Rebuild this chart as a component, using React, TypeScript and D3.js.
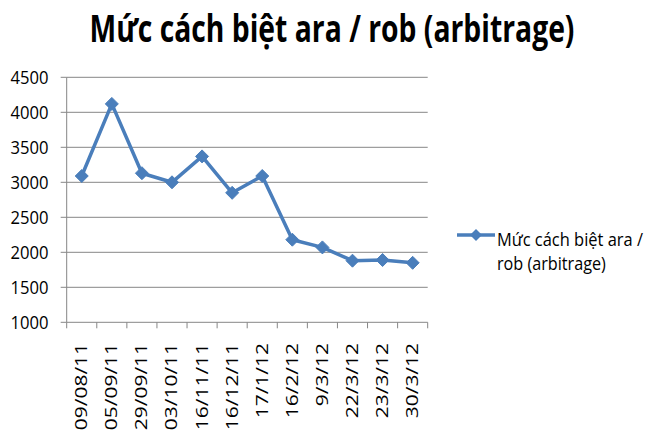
import React, { useLayoutEffect, useRef, useState } from "react";
import * as d3 from "d3";

const title = "Mức cách biệt ara / rob (arbitrage)";
const seriesName = "Mức cách biệt ara / rob (arbitrage)";
const legendLines = ["Mức cách biệt ara /", "rob (arbitrage)"];
const categories = ["09/08/11", "05/09/11", "29/09/11", "03/10/11", "16/11/11", "16/12/11", "17/1/12", "16/2/12", "9/3/12", "22/3/12", "23/3/12", "30/3/12"];
const values = [3090, 4120, 3130, 3000, 3370, 2850, 3090, 2180, 2070, 1880, 1890, 1850];
const yTicks = [1000, 1500, 2000, 2500, 3000, 3500, 4000, 4500];

const FONT = "'Open Sans', 'Noto Sans', sans-serif";
const BLUE = "#4A7EBB";
const GRID = "#868686";

function FitText(props: { x: number; y: number; width: number; anchor: "start" | "middle" | "end"; fontSize: number; bold?: boolean; children: string }) {
  const ref = useRef<SVGTextElement>(null);
  const [sx, setSx] = useState(1);
  useLayoutEffect(() => {
    if (ref.current) {
      const len = ref.current.getComputedTextLength();
      if (len > 0) setSx(props.width / len);
    }
  }, [props.width, props.children]);
  return (
    <g transform={`translate(${props.x},${props.y}) scale(${sx},1)`}>
      <text ref={ref} x={0} y={0} textAnchor={props.anchor} fontSize={props.fontSize} fontWeight={props.bold ? "bold" : "normal"} fill="#000">
        {props.children}
      </text>
    </g>
  );
}

export default function App() {
  const left = 66.7, right = 427.7, top = 77.3, bottom = 322.3;
  const x = d3.scaleBand<string>().domain(categories).range([left, right]).padding(0);
  const y = d3.scaleLinear().domain([1000, 4500]).range([bottom, top]);
  const cx = (c: string) => (x(c) as number) + x.bandwidth() / 2;
  const line = d3.line<number>().x((_, i) => cx(categories[i])).y((v) => y(v));
  const diamond = (px: number, py: number, r: number) =>
    `M${px},${py - r}L${px + r},${py}L${px},${py + r}L${px - r},${py}Z`;
  const boundaries = categories.map((c) => x(c) as number).concat([right]);

  return (
    <svg width={650} height={430} style={{ position: "absolute", left: 0, top: 0, background: "#fff" }} fontFamily={FONT}>
      <rect width={650} height={430} fill="#fff" />
      <FitText x={332} y={42} width={485} anchor="middle" fontSize={38} bold>{title}</FitText>
      {yTicks.map((t) => (
        <g key={t}>
          {t > 1000 && <line x1={left} x2={right} y1={y(t)} y2={y(t)} stroke={GRID} strokeWidth={1} />}
          <line x1={left - 6} x2={left} y1={y(t)} y2={y(t)} stroke={GRID} strokeWidth={1} />
          <text x={48.5} y={y(t) + 6.5} textAnchor="end" fontSize={17.5} textLength={38} lengthAdjust="spacingAndGlyphs" fill="#000">{t}</text>
        </g>
      ))}
      <line x1={left} x2={left} y1={top} y2={bottom} stroke={GRID} strokeWidth={1} />
      <line x1={left} x2={right} y1={bottom} y2={bottom} stroke={GRID} strokeWidth={1} />
      {boundaries.map((b, i) => (
        <line key={i} x1={b} x2={b} y1={bottom} y2={bottom + 6} stroke={GRID} strokeWidth={1} />
      ))}
      {categories.map((c) => (
        <g key={c} transform={`translate(${cx(c) + 5.5},343) rotate(-90) scale(1.27,1)`}>
          <text x={0} y={0} textAnchor="end" fontSize={16.5} fill="#000">{c}</text>
        </g>
      ))}
      <path d={line(values) || ""} fill="none" stroke={BLUE} strokeWidth={3.5} strokeLinejoin="round" />
      {values.map((v, i) => (
        <path key={i} d={diamond(cx(categories[i]), y(v), 6.5)} fill={BLUE} stroke={BLUE} strokeWidth={1} />
      ))}
      <g aria-label={seriesName}>
        <line x1={457} x2={495} y1={235} y2={235} stroke={BLUE} strokeWidth={3.5} />
        <path d={diamond(476, 235, 6)} fill={BLUE} />
        <FitText x={497} y={246} width={146} anchor="start" fontSize={18.5}>{legendLines[0]}</FitText>
        <FitText x={497} y={270} width={109} anchor="start" fontSize={18.5}>{legendLines[1]}</FitText>
      </g>
    </svg>
  );
}
